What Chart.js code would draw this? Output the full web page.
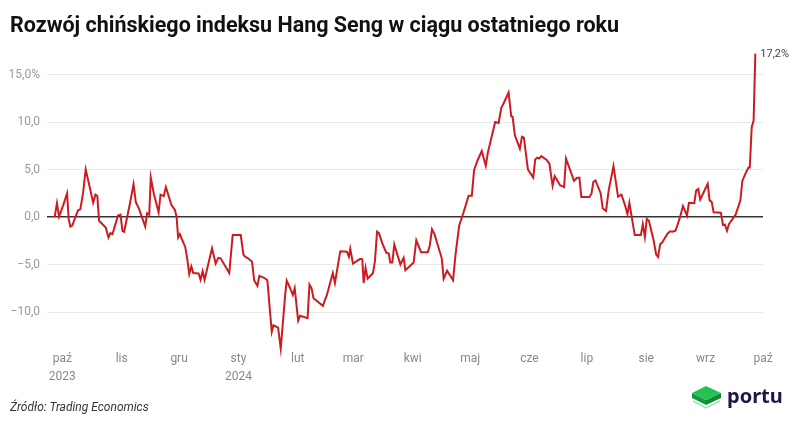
<!DOCTYPE html>
<html lang="pl">
<head>
<meta charset="utf-8">
<title>Hang Seng</title>
<script src="https://cdn.jsdelivr.net/npm/chart.js@4.4.1/dist/chart.umd.min.js"></script>
<style>
  body { margin: 0; background: #fff; font-family: Roboto, sans-serif; }
  #wrap { position: relative; width: 800px; height: 430px; overflow: hidden; }
  #title { position: absolute; left: 10px; top: 12px; font-size: 21.5px; font-weight: 700; color: #111; white-space: nowrap; }
  #source { position: absolute; left: 10px; top: 400px; font-size: 12px; font-style: italic; color: #333; }
  #logo { position: absolute; left: 690px; top: 383px; }
  canvas { position: absolute; left: 0; top: 0; }
</style>
</head>
<body>
<div id="wrap">
  <canvas id="chart" width="800" height="430"></canvas>
  <div id="title">Rozwój chińskiego indeksu Hang Seng w ciągu ostatniego roku</div>
  <div id="source">Źródło: Trading Economics</div>
  <svg id="logo" width="100" height="32" viewBox="0 0 100 32">
    <polyline points="3,18 16,25 30,18" fill="none" stroke="#9be3b0" stroke-width="1.5"/>
    <polygon points="2,10 16,17 16,22 2,15" fill="#149a3c"/>
    <polygon points="16,17 31,10 31,15 16,22" fill="#0f8a34"/>
    <polygon points="2,10 16,3 31,10 16,17" fill="#22c255"/>
    <text x="37" y="20" font-family="'Noto Sans', sans-serif" font-weight="700" font-size="20" fill="#1f1748">portu</text>
  </svg>
</div>
<script>
// days counted from 2023-09-27, value = % change vs. that day
const dayOffset = [
  0, 1.2, 2.3, 4.4, 6.5, 7.3, 8.2, 9.2, 12.2, 13.4,
  14.8, 16.2, 18.3, 20.1, 21.3, 22.3, 23.2, 26.7, 28.1, 29.1,
  30.2, 33.1, 34.4, 35.4, 36.3, 39.3, 41.2, 42.4, 44.1, 47.3,
  48.3, 49.4, 50.2, 51.8, 54.3, 55.3, 57.0, 58.1, 60.9, 62.8,
  63.7, 64.5, 65.4, 66.8, 68.2, 69.3, 70.3, 71.4, 72.4, 75.2,
  76.2, 77.3, 78.3, 82.2, 84.1, 85.5, 86.7, 91.2, 93.0, 97.2,
  98.6, 99.6, 100.7, 103.1, 104.2, 105.9, 106.9, 109.4, 111.1, 113.4,
  114.3, 116.7, 118.1, 120.4, 121.2, 123.0, 124.4, 125.4, 127.2, 128.2,
  132.1, 133.1, 134.2, 135.2, 140.1, 142.2, 145.3, 146.4, 149.2, 152.7,
  153.7, 154.4, 155.8, 159.6, 160.7, 161.4, 162.4, 163.5, 166.3, 167.3,
  168.4, 169.4, 171.1, 173.2, 174.5, 175.3, 176.4, 177.4, 180.6, 182.3,
  183.2, 187.5, 188.9, 191.4, 194.9, 195.9, 197.1, 198.4, 202.2, 203.2,
  205.0, 208.1, 209.4, 211.3, 212.8, 214.6, 216.2, 217.9, 219.1, 221.0,
  223.1, 225.2, 226.3, 230.1, 231.9, 233.3, 234.6, 237.1, 238.5, 239.2,
  240.4, 243.0, 244.1, 245.1, 247.2, 250.0, 251.0, 252.1, 253.1, 254.2,
  257.0, 258.4, 260.1, 261.2, 264.0, 266.1, 267.1, 271.3, 272.7, 274.1,
  275.1, 279.3, 280.4, 281.4, 282.5, 285.2, 286.3, 288.0, 289.4, 291.9,
  294.3, 296.1, 298.2, 299.2, 300.2, 303.0, 306.2, 307.2, 308.3, 309.3,
  310.4, 312.8, 314.2, 315.2, 316.3, 317.3, 320.1, 321.5, 322.6, 324.3,
  326.4, 328.2, 330.3, 331.3, 334.1, 335.1, 336.2, 337.2, 341.1, 342.1,
  343.2, 344.2, 348.0, 349.1, 350.1, 351.2, 352.2, 355.7, 358.2, 359.2,
  361.0, 362.4, 363.1, 364.1, 365.1, 366.0
];
const change = [
  0, 1.45, 0.05, 1.2, 2.5, -0.2, -1.0, -0.9, 0.7, 0.8,
  2.45, 5.0, 3.15, 1.5, 2.35, 2.2, -0.4, -1.1, -2.15, -1.7,
  -1.8, 0.15, 0.25, -1.45, -1.55, 1.4, 3.45, 1.55, 0.85, -1.0,
  0.4, 0.25, 4.15, 2.45, 0.5, 2.35, 2.2, 3.15, 1.3, 0.75,
  0, -2.15, -1.8, -2.5, -3.15, -4.45, -6.0, -5.2, -5.9, -5.95,
  -6.6, -5.7, -6.6, -3.3, -4.9, -4.3, -4.35, -5.9, -1.9, -1.9,
  -3.95, -4.2, -4.3, -4.7, -6.65, -7.25, -6.2, -6.4, -6.65, -12.1,
  -11.4, -11.65, -13.85, -8.2, -6.7, -7.5, -8.2, -7.5, -10.9, -10.4,
  -10.65, -7.1, -7.5, -8.55, -9.35, -8.2, -5.9, -6.95, -3.6, -3.65,
  -4.2, -3.35, -4.9, -4.4, -4.45, -6.95, -5.35, -6.5, -5.9, -4.65,
  -1.55, -1.7, -2.75, -3.75, -3.85, -4.8, -4.8, -2.9, -5.0, -4.3,
  -5.6, -4.8, -2.45, -3.7, -3.7, -3.05, -1.3, -1.8, -4.35, -6.5,
  -5.65, -6.65, -3.95, -0.9, 0, 1.15, 2.25, 2.25, 4.95, 6.0,
  6.95, 5.4, 6.8, 10.0, 9.9, 11.5, 12.0, 13.1, 10.6, 10.55,
  8.6, 7.2, 8.45, 8.35, 5.0, 4.15, 6.05, 6.25, 6.15, 6.4,
  6.0, 5.65, 3.3, 4.3, 3.35, 3.15, 6.15, 3.8, 4.1, 4.15,
  2.1, 2.1, 2.45, 3.7, 3.85, 2.5, 0.9, 0.65, 2.8, 5.35,
  2.15, 2.35, 1.05, 0.3, 1.5, -1.9, -1.9, -0.75, -2.1, -0.2,
  -0.4, -2.4, -3.95, -4.2, -2.85, -2.7, -1.75, -1.5, -1.55, -1.45,
  -0.2, 1.15, 0.15, 1.5, 1.45, 2.8, 2.95, 1.85, 3.5, 1.75,
  1.6, 0.5, 0.45, -0.85, -0.8, -1.45, -0.75, 0.25, 1.75, 3.8,
  4.65, 5.2, 5.2, 9.45, 10.15, 17.2
];

// month ticks (day offset of the 1st of each month)
const monthDays = [4, 35, 65, 96, 127, 156, 187, 217, 248, 278, 309, 340, 370];
const monthLabels = ["paź", "lis", "gru", "sty", "lut", "mar", "kwi", "maj", "cze", "lip", "sie", "wrz", "paź"];
const yearLabels = { 0: "2023", 3: "2024" };
const yTicks = [-10, -5, 0, 5, 10, 15];

function fmt(v) {
  let s = Math.abs(v).toFixed(1).replace(".", ",");
  if (v < 0) s = "\u2212" + s;
  if (v === 15) s += "%";
  return s;
}

const points = dayOffset.map((d, i) => ({ x: d, y: change[i] }));

// label next to the last point
const lastLabel = {
  id: "lastLabel",
  afterDatasetsDraw(chart) {
    const meta = chart.getDatasetMeta(0);
    const p = meta.data[meta.data.length - 1];
    const ctx = chart.ctx;
    ctx.save();
    ctx.font = "11px Roboto";
    ctx.fillStyle = "#444";
    ctx.textBaseline = "middle";
    ctx.fillText(fmt(change[change.length - 1]) + "%", p.x + 5, p.y + 1);
    ctx.restore();
  },
};

new Chart(document.getElementById("chart"), {
  type: "line",
  data: {
    datasets: [{
      data: points,
      borderColor: "#cc1c22",
      borderWidth: 2,
      pointRadius: 0,
      tension: 0,
      clip: false,
    }],
  },
  options: {
    responsive: false,
    animation: false,
    layout: { padding: { top: 46, right: 37, bottom: 40, left: 0 } },
    plugins: { legend: { display: false }, tooltip: { enabled: false } },
    scales: {
      x: {
        type: "linear",
        min: -4,
        max: 370,
        afterFit(scale) { scale.height = 40; },
        grid: { display: false },
        border: { display: false },
        afterBuildTicks(scale) {
          scale.ticks = monthDays.map((d) => ({ value: d }));
        },
        ticks: {
          autoSkip: false,
          maxRotation: 0,
          padding: -8,
          color: "#888",
          font: { family: "Roboto", size: 12, lineHeight: 1.5 },
          callback(v, i) {
            return yearLabels[i] ? [monthLabels[i], yearLabels[i]] : monthLabels[i];
          },
        },
      },
      y: {
        min: -14,
        max: 18,
        afterFit(scale) { scale.width = 47; },
        afterBuildTicks(scale) {
          scale.ticks = yTicks.map((v) => ({ value: v }));
        },
        border: { display: false },
        grid: {
          drawTicks: false,
          color: (c) => (c.tick && c.tick.value === 0 ? "#333" : "#e8e8e8"),
          lineWidth: (c) => (c.tick && c.tick.value === 0 ? 1.5 : 1),
        },
        ticks: {
          padding: 7,
          color: "#999",
          font: { family: "Roboto", size: 12 },
          callback: (v) => fmt(v),
        },
      },
    },
  },
  plugins: [lastLabel],
});
</script>
</body>
</html>
